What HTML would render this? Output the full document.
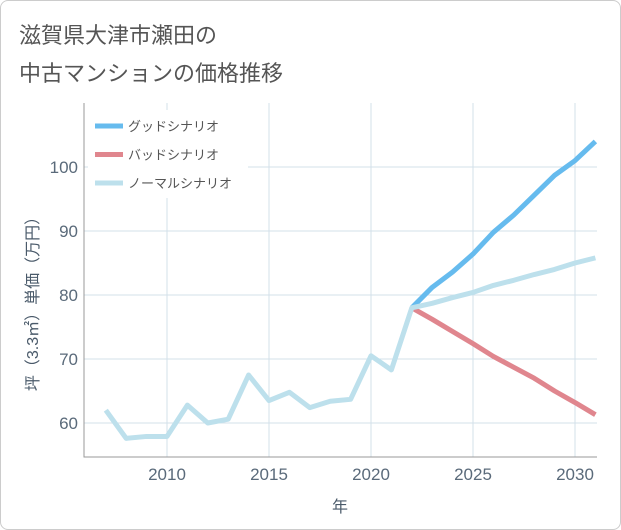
<!DOCTYPE html>
<html><head><meta charset="utf-8"><style>
body{margin:0;background:#fff;font-family:"Liberation Sans","Noto Sans CJK JP",sans-serif}
#wrap{position:relative;width:619px;height:528px;border:1px solid #ccc;border-radius:8px;background:#fff}
.title{position:absolute;left:18px;font-size:22px;color:#555}
</style></head><body>
<div id="wrap">
<div class="title" style="top:17px">滋賀県大津市瀬田の</div>
<div class="title" style="top:55px">中古マンションの価格推移</div>
<svg id="chart" width="621" height="530" style="position:absolute;left:-1px;top:-1px"></svg>
</div>
<script>
const years=[2007,2008,2009,2010,2011,2012,2013,2014,2015,2016,2017,2018,2019,2020,2021,2022,2023,2024,2025,2026,2027,2028,2029,2030,2031];
const normal=[62,57.6,57.9,57.9,62.8,60,60.6,67.5,63.5,64.8,62.4,63.4,63.7,70.5,68.3,78,78.7,79.6,80.4,81.5,82.3,83.2,84,85,85.8];
const goodYears=[2022,2023,2024,2025,2026,2027,2028,2029,2030,2031];
const good=[78,81.2,83.6,86.4,89.8,92.5,95.6,98.7,101,104];
const bad=[78,76.2,74.3,72.4,70.4,68.7,67,65,63.2,61.3];
const xTicks=[2010,2015,2020,2025,2030];
const yTicks=[60,70,80,90,100];
const NS="http://www.w3.org/2000/svg";
const svg=document.getElementById('chart');
const L=84,R=597,T=103,B=457;
const x=v=>167+(v-2010)*20.4;
const y=v=>423-(v-60)*6.4;
function mk(t,a){const e=document.createElementNS(NS,t);for(const k in a)e.setAttribute(k,a[k]);svg.appendChild(e);return e;}
xTicks.forEach(t=>{
 const g=mk('line',{x1:x(t),x2:x(t),y1:T,y2:B,stroke:'#d3e0ea','stroke-width':1});
 
 
 const l=mk('text',{x:x(t),y:480,'text-anchor':'middle','font-size':17,fill:'#5a6a7a'});l.textContent=t;
 
 
});
yTicks.forEach(t=>{
 const g=mk('line',{x1:L,x2:R,y1:y(t),y2:y(t),stroke:'#d3e0ea','stroke-width':1});
 
 
 const l=mk('text',{x:78,y:y(t)+6,'text-anchor':'end','font-size':17,fill:'#5a6a7a'});l.textContent=t;
 
 
});
const ax=mk('path',{d:`M${L},${T}V${B}H${R}`,fill:'none',stroke:'#999','stroke-width':1});


function line(xs,vs,c,n){const p=mk('polyline',{points:xs.map((yr,i)=>x(yr)+','+y(vs[i])).join(' '),fill:'none',stroke:c,'stroke-width':5,'stroke-linejoin':'round'});
 
 }
line(goodYears,bad,'#e0868e','bad-scenario-line');
line(goodYears,good,'#66bbee','good-scenario-line');
line(years,normal,'#bde0ec','normal-scenario-line');
const lg=[['グッドシナリオ','#66bbee'],['バッドシナリオ','#e0868e'],['ノーマルシナリオ','#bde0ec']];
const bg=mk('rect',{x:88,y:110,width:160,height:88,fill:'#fff'});


lg.forEach((d,i)=>{const yy=126+i*28.5;
 const s=mk('line',{x1:95,x2:123,y1:yy,y2:yy,stroke:d[1],'stroke-width':5});
 
 
 const t=mk('text',{x:128,y:yy+5,'font-size':13,fill:'#555'});t.textContent=d[0];
 
 });
const xt=mk('text',{x:340,y:512,'text-anchor':'middle','font-size':16,fill:'#4a5a6a'});xt.textContent='年';


const yt=mk('text',{x:0,y:0,'text-anchor':'middle','font-size':16,fill:'#4a5a6a',transform:'translate(38,300) rotate(-90)'});yt.textContent='坪（3.3㎡）単価（万円）';


</script>
</body></html>
